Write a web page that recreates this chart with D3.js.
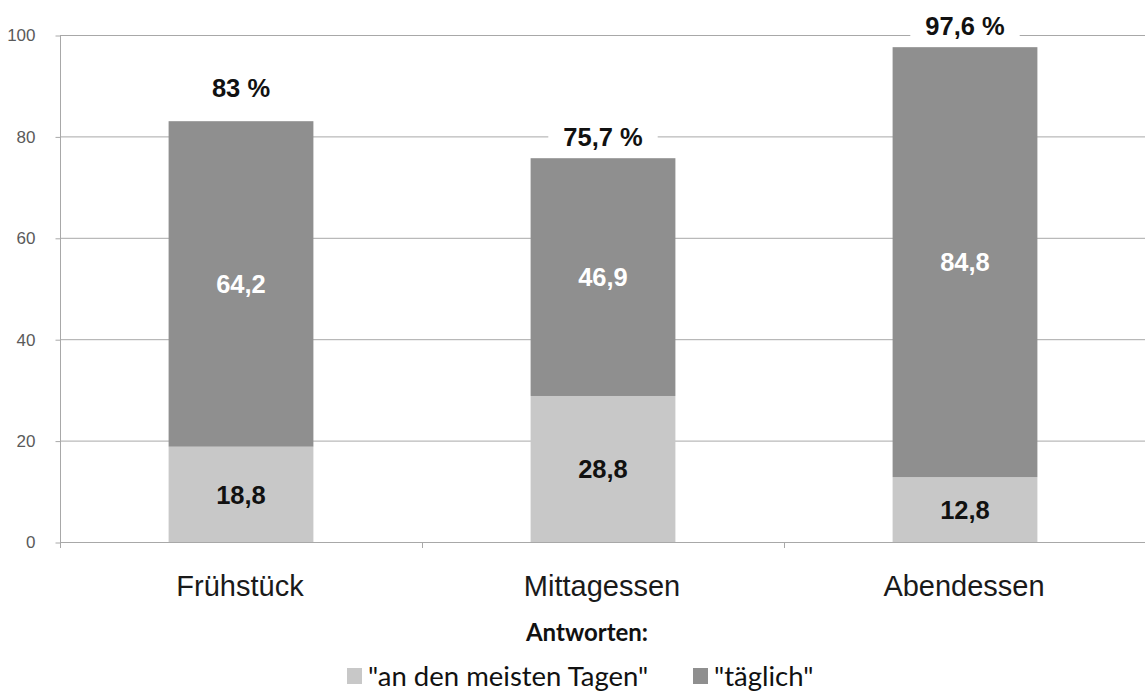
<!DOCTYPE html>
<html>
<head>
<meta charset="utf-8">
<script src="https://cdn.jsdelivr.net/npm/d3@7"></script>
<style>
  body { margin: 0; background: #fff; }
  svg { display: block; }
</style>
</head>
<body>
<svg id="chart" width="1145" height="695"></svg>
<script>
// Mahlzeiten: Anteil der Befragten, die die Mahlzeit einnehmen (in %)
const categories = ["Frühstück", "Mittagessen", "Abendessen"];
const seriesNames = ['"an den meisten Tagen"', '"täglich"'];
const meistenTage = [18.8, 28.8, 12.8];
const taeglich = [64.2, 46.9, 84.8];
const totals = [83, 75.7, 97.6];
const yTicks = [0, 20, 40, 60, 80, 100];
const legendTitle = "Antworten:";

const colors = ["#c8c8c8", "#8f8f8f"];
const gridColor = "#a8a8a8";
const chartFont = "'Liberation Sans', Arial, sans-serif";
const legendFont = "Lato, 'Open Sans', sans-serif";

const fmt = v => String(v).replace(".", ",");

const svg = d3.select("#chart");
const W = 1145;
const plotLeft = 60, plotRight = 1146, plotTop = 35, plotBottom = 542;

const x = d3.scaleBand().domain(categories).range([plotLeft, plotRight]).paddingInner(0.6).paddingOuter(0.3);
const band = d3.scaleBand().domain(categories).range([plotLeft, plotRight]);
const y = d3.scaleLinear().domain([0, 100]).range([plotBottom, plotTop]);

// horizontal gridlines
svg.append("g").selectAll("line").data(yTicks).join("line")
  .attr("x1", plotLeft).attr("x2", W).attr("y1", d => y(d) + 0.5).attr("y2", d => y(d) + 0.5)
  .attr("stroke", gridColor).attr("stroke-width", 1);

// y axis
const yAxis = d3.axisLeft(y).tickValues(yTicks).tickSize(5).tickPadding(20).tickFormat(d3.format("d"));
const gy = svg.append("g").attr("transform", `translate(${plotLeft + 0.5},0.5)`).call(yAxis);
gy.select(".domain").remove();
gy.selectAll(".tick line").attr("stroke", gridColor);
gy.selectAll(".tick text").attr("fill", "#5a5a5a").style("font", `17px ${chartFont}`);
svg.append("line").attr("x1", plotLeft + 0.5).attr("x2", plotLeft + 0.5).attr("y1", plotTop).attr("y2", plotBottom + 6)
  .attr("stroke", gridColor);

// category separators below the baseline
svg.append("g").selectAll("line").data(categories.slice(1)).join("line")
  .attr("x1", d => band(d) + 0.5).attr("x2", d => band(d) + 0.5)
  .attr("y1", plotBottom).attr("y2", plotBottom + 6).attr("stroke", gridColor);

// stacked bars
const stacks = categories.map((c, i) => [
  { cat: c, y0: 0, y1: meistenTage[i], v: meistenTage[i], s: 0 },
  { cat: c, y0: meistenTage[i], y1: meistenTage[i] + taeglich[i], v: taeglich[i], s: 1 }
]).flat();

svg.append("g").selectAll("rect").data(stacks).join("rect")
  .attr("x", d => x(d.cat)).attr("width", x.bandwidth())
  .attr("y", d => y(d.y1)).attr("height", d => y(d.y0) - y(d.y1))
  .attr("fill", d => colors[d.s]);

// baseline over the bars
svg.append("line").attr("x1", plotLeft).attr("x2", W).attr("y1", plotBottom + 0.5).attr("y2", plotBottom + 0.5)
  .attr("stroke", gridColor);

// segment value labels
svg.append("g").selectAll("text").data(stacks).join("text")
  .attr("x", d => x(d.cat) + x.bandwidth() / 2)
  .attr("y", d => (y(d.y0) + y(d.y1)) / 2)
  .attr("dy", "0.36em").attr("text-anchor", "middle")
  .attr("fill", d => d.s === 0 ? "#111" : "#fff")
  .style("font", `bold 25.5px ${chartFont}`)
  .text(d => fmt(d.v));

// totals above the bars, on a white backing
const totalLift = [33, 21, 21];
const tg = svg.append("g").selectAll("g").data(categories).join("g")
  .attr("transform", (c, i) => `translate(${x(c) + x.bandwidth() / 2},${y(totals[i]) - totalLift[i]})`);
tg.append("text").attr("dy", "0.36em").attr("text-anchor", "middle")
  .attr("fill", "#111").style("font", `bold 25.5px ${chartFont}`)
  .text((c, i) => fmt(totals[i]) + " %");
tg.each(function () {
  const b = d3.select(this).select("text").node().getBBox();
  d3.select(this).insert("rect", "text")
    .attr("x", b.x - 15).attr("y", b.y).attr("width", b.width + 30).attr("height", b.height)
    .attr("fill", "#fff");
});

// category labels
svg.append("g").selectAll("text").data(categories).join("text")
  .attr("x", c => band(c) + band.bandwidth() / 2 - 1)
  .attr("y", 596).attr("text-anchor", "middle")
  .attr("fill", "#1a1a1a").style("font", `29px ${chartFont}`)
  .text(c => c);

// legend
svg.append("text").attr("x", 587).attr("y", 641).attr("text-anchor", "middle")
  .attr("fill", "#111").style("font", `bold 24px ${legendFont}`).text(legendTitle);

const legendX = [347, 693];
const lg = svg.append("g").selectAll("g").data(seriesNames).join("g")
  .attr("transform", (d, i) => `translate(${legendX[i]},668)`);
lg.append("rect").attr("width", 15).attr("height", 16).attr("fill", (d, i) => colors[i]);
lg.append("text").attr("x", 21).attr("y", 18).attr("fill", "#111")
  .style("font", `27.5px ${legendFont}`).text(d => d);
</script>
</body>
</html>
